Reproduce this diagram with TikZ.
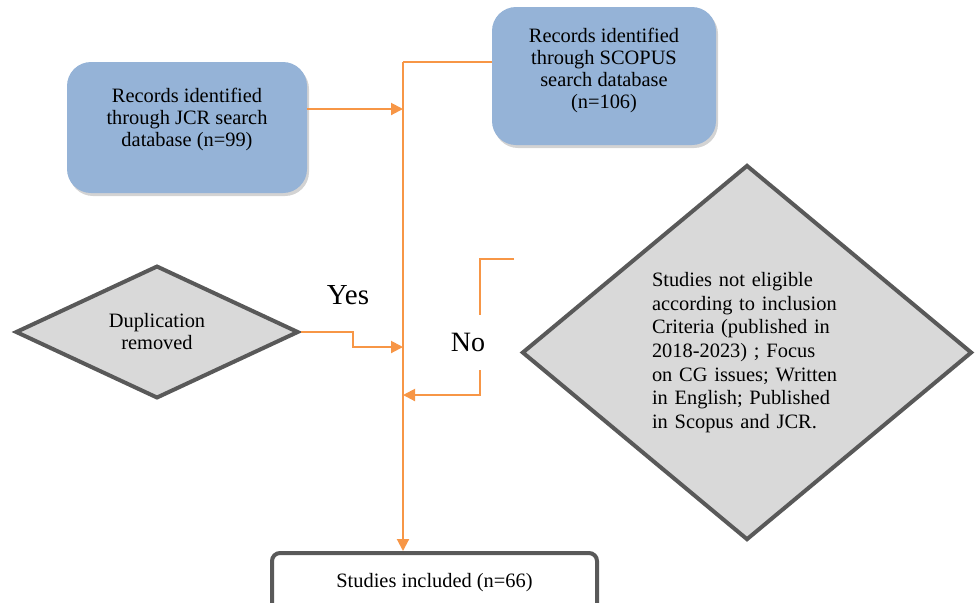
\documentclass[tikz,border=0pt]{standalone}
\usepackage{fontspec}
\setmainfont{Liberation Serif}
\usepackage{xcolor}
\usetikzlibrary{shapes,arrows,arrows.meta,positioning,shadows}

\definecolor{recblue}{HTML}{95B3D7}
\definecolor{flowline}{HTML}{F79646}
\definecolor{edgegray}{HTML}{595959}
\definecolor{diagray}{HTML}{D9D9D9}

\begin{document}
\begin{tikzpicture}[x=0.5pt, y=-0.5pt, font=\fontsize{10.2}{11}\selectfont,
    flow/.style={draw=flowline, line width=1pt},
    >={Triangle[length=6pt,width=6pt]}]
    \clip (0,0) rectangle (977,602);
    % Nodes
    \node [rectangle, rounded corners=12pt, fill=recblue, align=center,
        minimum width=120pt, minimum height=65.5pt,
        drop shadow={opacity=0.35, shadow xshift=1pt, shadow yshift=-1.5pt}]
        (jcr) at (187,127.5) {Records identified\\ through JCR search\\ database (n=99)\\[-0.5pt]\mbox{}};
    \node [rectangle, rounded corners=12pt, fill=recblue, align=center,
        minimum width=112pt, minimum height=69pt,
        drop shadow={opacity=0.35, shadow xshift=1pt, shadow yshift=-1.5pt}]
        (scopus) at (604,76) {Records identified\\ through SCOPUS\\ search database\\ (n=106)\\[-3pt]\mbox{}};
    \node [diamond, draw=edgegray, line width=2pt, fill=diagray, align=left, inner sep=0pt,
        minimum width=141.5pt, minimum height=65pt, align=center] (dup) at (157,332) {Duplication\\ removed};
    \node [diamond, draw=edgegray, line width=2pt, fill=diagray, align=left, inner sep=0pt,
        text width=95pt, font=\fontsize{10.2}{11.8}\selectfont,
        minimum width=225pt, minimum height=187.5pt] (noteligible) at (747,352.5)
        {Studies not eligible\\ according to inclusion\\ Criteria (published in\\ 2018-2023) ; Focus\\ on CG issues; Written\\ in English; Published\\ in Scopus and JCR.};
    \node [rectangle, rounded corners=4pt, draw=edgegray, line width=2pt, fill=white,
        minimum width=162.5pt, minimum height=30pt] (included) at (434.5,583) {Studies included (n=66)};
    \node [font=\fontsize{14.5}{16}\selectfont] (yes) at (348,295) {Yes};
    \node [font=\fontsize{14}{16}\selectfont] (no) at (468,342) {No};

    \coordinate (trunktop) at (403,62);
    \coordinate (jcrin) at (403,109);
    \coordinate (dupin) at (403,347);
    \coordinate (noin) at (403,395);
    \coordinate (nostart) at (514,259);
    \coordinate (nogaptop) at (480,315);
    \coordinate (nogapbot) at (480,370);

    % Path
    \draw [flow] (scopus.west |- trunktop) -- (trunktop);
    \draw [flow, ->] (trunktop) -- (trunktop |- included.north);
    \draw [flow, ->] (jcr.east |- jcrin) -- (jcrin);
    \draw [flow, ->] (dup.east) -- ++(52,0) |- (dupin);
    \draw [flow] (nostart) -| (nogaptop);
    \draw [flow, ->] (nogapbot) |- (noin);
\end{tikzpicture}
\end{document}
